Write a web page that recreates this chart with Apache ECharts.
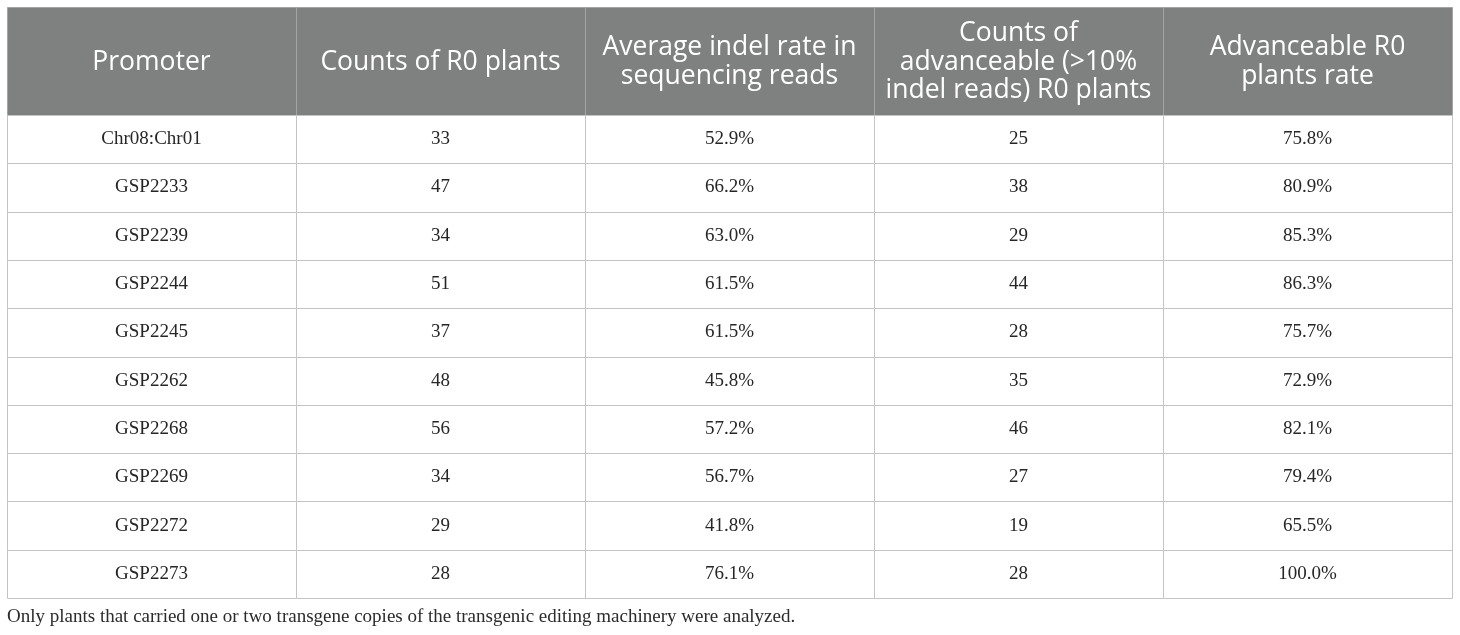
<!DOCTYPE html>
<html>
<head>
<meta charset="utf-8">
<script src="https://cdn.jsdelivr.net/npm/echarts@6/dist/echarts.min.js"></script>
<style>
  html, body { margin: 0; padding: 0; background: #fff; }
  #chart { width: 1460px; height: 635px; }
</style>
</head>
<body>
<div id="chart"></div>
<script>
const headers = [
  "Promoter",
  "Counts of R0 plants",
  "Average indel rate in\nsequencing reads",
  "Counts of\nadvanceable (>10%\nindel reads) R0 plants",
  "Advanceable R0\nplants rate"
];
const promoters = ["Chr08:Chr01", "GSP2233", "GSP2239", "GSP2244", "GSP2245",
  "GSP2262", "GSP2268", "GSP2269", "GSP2272", "GSP2273"];
const plantCounts = [33, 47, 34, 51, 37, 48, 56, 34, 29, 28];
const avgIndelRate = [52.9, 66.2, 63.0, 61.5, 61.5, 45.8, 57.2, 56.7, 41.8, 76.1];
const advanceableCounts = [25, 38, 29, 44, 28, 35, 46, 27, 19, 28];
const advanceableRate = [75.8, 80.9, 85.3, 86.3, 75.7, 72.9, 82.1, 79.4, 65.5, 100.0];
const footnote = "Only plants that carried one or two transgene copies of the transgenic editing machinery were analyzed.";

const pct = v => v.toFixed(1) + "%";
const colIds = headers.map((h, i) => String(i));

// header cells: [col, row, text]
const headerCells = headers.map((h, i) => [i, 0, h]);
// body cells
const bodyCells = [];
promoters.forEach((p, r) => {
  const row = [p, String(plantCounts[r]), pct(avgIndelRate[r]),
    String(advanceableCounts[r]), pct(advanceableRate[r])];
  row.forEach((t, c) => bodyCells.push([c, r, t]));
});

function cellRenderer(opts) {
  return function (params, api) {
    const c = api.coord([api.value(0), api.value(1)]);
    const s = api.size([1, 1]);
    const x0 = Math.round(c[0] - s[0] / 2) + 0.5;
    const x1 = Math.round(c[0] + s[0] / 2) + 0.5;
    const y0 = Math.round(c[1] - s[1] / 2) + 0.5;
    const y1 = Math.round(c[1] + s[1] / 2) + 0.5;
    return {
      type: "group",
      children: [
        {
          type: "rect",
          shape: { x: x0, y: y0, width: x1 - x0, height: y1 - y0 },
          style: { fill: opts.fill, stroke: opts.stroke, lineWidth: 1 }
        },
        {
          type: "text",
          style: {
            text: opts.cells[params.dataIndex][2],
            x: c[0],
            y: c[1] + opts.dy,
            align: "center",
            verticalAlign: "middle",
            textAlign: "center",
            textVerticalAlign: "middle",
            fontFamily: opts.fontFamily,
            fontSize: opts.fontSize,
            lineHeight: opts.lineHeight,
            fill: opts.color
          }
        }
      ]
    };
  };
}

const chart = echarts.init(document.getElementById("chart"), null, { renderer: "canvas" });
const hiddenCat = (data, gridIndex, inverse) => ({
  type: "category", data: data, gridIndex: gridIndex, inverse: !!inverse,
  show: false, boundaryGap: true
});

chart.setOption({
  animation: false,
  backgroundColor: "#ffffff",
  title: {
    text: footnote,
    left: 2,
    top: 603,
    textStyle: {
      fontFamily: "Liberation Serif",
      fontWeight: "normal",
      fontSize: 19,
      color: "#2b2b2b"
    }
  },
  grid: [
    { left: 7, right: 8, top: 7, height: 108 },
    { left: 7, right: 8, top: 115, height: 483 }
  ],
  xAxis: [hiddenCat(colIds, 0), hiddenCat(colIds, 1)],
  yAxis: [hiddenCat(["h"], 0, true), hiddenCat(promoters, 1, true)],
  series: [
    {
      type: "custom",
      xAxisIndex: 0,
      yAxisIndex: 0,
      silent: true,
      data: headerCells.map(d => [d[0], d[1]]),
      renderItem: cellRenderer({
        cells: headerCells, fill: "#7f8180", stroke: "#a3a4a3",
        fontFamily: "Open Sans", fontSize: 26.5, lineHeight: 28.5,
        color: "#ffffff", dy: 1
      })
    },
    {
      type: "custom",
      xAxisIndex: 1,
      yAxisIndex: 1,
      silent: true,
      data: bodyCells.map(d => [d[0], d[1]]),
      renderItem: cellRenderer({
        cells: bodyCells, fill: "#ffffff", stroke: "#c4c4c4",
        fontFamily: "Liberation Serif", fontSize: 19, lineHeight: 22,
        color: "#262626", dy: 0
      })
    }
  ]
});
</script>
</body>
</html>
